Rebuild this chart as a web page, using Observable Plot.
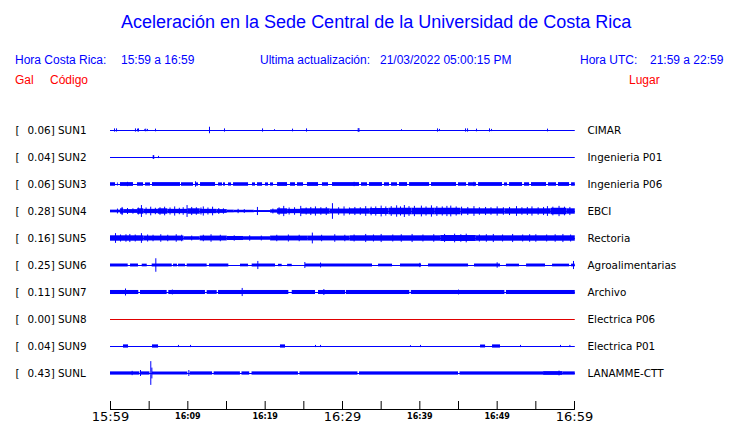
<!DOCTYPE html>
<html><head><meta charset="utf-8">
<script src="https://cdn.jsdelivr.net/npm/d3@7"></script>
<script src="https://cdn.jsdelivr.net/npm/@observablehq/plot@0.6"></script>
<style>
html,body{margin:0;padding:0;background:#fff;overflow:hidden;}
#wrap{position:relative;width:740px;height:423px;background:#fff;}
#chart{position:absolute;left:0;top:0;width:740px;height:423px;}
#head{position:absolute;left:0;top:0;width:740px;height:90px;font-family:"Liberation Sans",Arial,sans-serif;z-index:1;}
#head span{position:absolute;white-space:pre;font-size:12px;line-height:14px;color:#0000ff;}
#head span.title{font-size:18px;line-height:20px;}
#head span.red{color:#ff0000;}
#chart svg{display:block;}
</style></head><body>
<div id="wrap"><div id="chart"></div><div id="head"></div></div>
<script>
// ---------- texts ----------
const titleText = "Aceleración en la Sede Central de la Universidad de Costa Rica";
const localLabel = "Hora Costa Rica:";
const localRange = "15:59 a 16:59";
const updateLabel = "Ultima actualización:";
const updateValue = "21/03/2022 05:00:15 PM";
const utcLabel = "Hora UTC:";
const utcRange = "21:59 a 22:59";
const colGal = "Gal", colCode = "Código", colPlace = "Lugar";

// ---------- stations ----------
const codes  = ["SUN1","SUN2","SUN3","SUN4","SUN5","SUN6","SUN7","SUN8","SUN9","SUNL"];
const places = ["CIMAR","Ingenieria P01","Ingenieria P06","EBCI","Rectoria","Agroalimentarias","Archivo","Electrica P06","Electrica P01","LANAMME-CTT"];
const peaks  = [0.06,0.04,0.06,0.28,0.16,0.25,0.11,0.00,0.04,0.43];

// time axis ticks (every 5 minutes), big and small labels
const tickTimes   = ["15:59","16:04","16:09","16:14","16:19","16:24","16:29","16:34","16:39","16:44","16:49","16:54","16:59"];
const bigLabels   = ["15:59","16:29","16:59"];
const smallLabels = ["16:09","16:19","16:39","16:49"];

// ---------- traces: bands [start min, end min, half amplitude], spikes [min, half amplitude] ----------
const sun1Bands = [];
const sun1Spikes = [[0.52,0.06],[0.78,0.06],[3.23,0.06],[3.49,0.05],[3.62,0.06],[4.44,0.04],[4.56,0.05],[4.78,0.04],[5.82,0.05],[12.80,0.12],[14.74,0.06],[19.66,0.06],[21.21,0.03],[23.54,0.05],[25.35,0.06],[32.03,0.07],[32.13,0.07],[37.63,0.03],[42.29,0.06],[42.54,0.04],[45.91,0.06],[46.17,0.06],[47.33,0.05],[49.01,0.06],[49.27,0.04],[56.51,0.05]];

const sun2Bands = [[5.52,5.72,0.07]];
const sun2Spikes = [[6.21,0.04]];

const sun3Bands = [[0,0.65,0.065],[0.9,1.0,0.06],[1.29,2.97,0.07],[3.49,4.27,0.065],[4.53,5.17,0.06],[5.43,9.05,0.07],[9.18,10.73,0.065],[11.12,11.38,0.06],[11.64,13.58,0.07],[13.97,14.48,0.06],[14.61,14.87,0.06],[15.26,15.65,0.06],[15.91,17.85,0.065],[18.36,18.75,0.06],[19.01,19.66,0.065],[20.04,20.43,0.06],[20.69,21.08,0.06],[21.6,22.89,0.07],[23.28,23.92,0.065],[24.18,24.96,0.065],[25.47,26.9,0.07],[27.41,28.19,0.065],[28.71,32.2,0.07],[32.46,33.23,0.065],[33.49,35.17,0.07],[35.43,36.08,0.065],[36.34,37.11,0.065],[37.37,38.41,0.07],[38.67,41.26,0.07],[41.51,44.74,0.07],[45.0,46.04,0.065],[46.3,47.33,0.065],[47.59,50.69,0.07],[50.95,51.34,0.06],[51.6,53.28,0.07],[53.54,54.19,0.065],[54.44,56.38,0.07],[56.64,57.67,0.065],[57.93,59.36,0.07],[59.62,60.1,0.065]];
const sun3Spikes = [[10.99,0.1],[2.2,0.08],[31.5,0.08],[47.0,0.08]];

const sun4Bands = [[0,1.3,0.05],[1.3,1.7,0.1],[1.7,3.5,0.07],[3.5,4.3,0.1],[4.3,6.2,0.08],[6.2,7.4,0.1],[7.4,10.0,0.08],[10.0,11.6,0.1],[11.6,13.8,0.08],[13.8,15.1,0.07],[15.1,16.0,0.05],[16.0,18.6,0.045],[18.6,20.7,0.035],[20.7,21.6,0.06],[21.6,22.9,0.1],[22.9,24.6,0.08],[24.6,28.4,0.1],[28.4,31.0,0.09],[31.0,33.6,0.1],[33.6,36.0,0.11],[36.0,39.0,0.12],[39.0,42.0,0.12],[42.0,45.3,0.12],[45.3,51.0,0.1],[51.0,57.0,0.1],[57.0,59.0,0.12],[59.0,60.1,0.1]];
const sun4Spikes = [[0.9,0.09],[1.5,0.15],[2.2,0.11],[2.9,0.1],[3.6,0.13],[4.0,0.22],[4.6,0.13],[5.2,0.16],[5.8,0.12],[6.4,0.14],[7.0,0.16],[7.7,0.13],[8.3,0.17],[8.9,0.12],[9.4,0.14],[9.9,0.22],[10.5,0.15],[11.1,0.14],[11.7,0.13],[12.0,0.17],[12.6,0.13],[13.2,0.16],[14.0,0.11],[14.6,0.1],[16.5,0.08],[17.3,0.07],[19.0,0.15],[21.0,0.09],[21.8,0.14],[22.4,0.19],[23.1,0.13],[23.8,0.14],[24.6,0.19],[25.3,0.13],[25.9,0.15],[26.5,0.17],[27.2,0.14],[27.9,0.15],[28.7,0.29],[29.5,0.14],[30.2,0.17],[30.9,0.13],[31.6,0.15],[32.3,0.14],[33.0,0.18],[33.7,0.16],[34.3,0.17],[35.0,0.2],[35.6,0.17],[36.3,0.18],[37.0,0.21],[37.5,0.17],[38.0,0.22],[38.6,0.18],[39.3,0.19],[40.2,0.2],[40.8,0.17],[41.5,0.21],[42.2,0.18],[42.9,0.17],[43.5,0.19],[44.0,0.2],[44.7,0.17],[45.4,0.16],[46.2,0.15],[47.0,0.18],[47.7,0.14],[48.5,0.15],[49.2,0.14],[50.0,0.17],[50.8,0.14],[51.6,0.15],[52.5,0.18],[53.2,0.14],[53.9,0.15],[54.5,0.17],[55.3,0.14],[56.0,0.15],[56.5,0.18],[57.2,0.16],[58.0,0.19],[58.7,0.16],[59.4,0.15]];

const sun5Bands = [[0,4.3,0.1],[4.3,9.5,0.09],[9.5,11.6,0.065],[11.6,15.1,0.09],[15.1,17.2,0.075],[17.2,20.7,0.065],[20.7,25.5,0.09],[25.5,31.0,0.09],[31.0,42.7,0.1],[42.7,47.3,0.11],[47.3,60.1,0.1]];
const sun5Spikes = [[0.65,0.18],[1.3,0.13],[2.0,0.14],[2.5,0.15],[3.2,0.13],[4.0,0.18],[4.8,0.13],[5.5,0.12],[6.5,0.14],[7.4,0.12],[8.5,0.14],[9.2,0.12],[10.5,0.09],[12.0,0.12],[13.0,0.14],[14.2,0.12],[16.0,0.1],[18.0,0.1],[19.5,0.09],[21.5,0.12],[23.0,0.13],[24.4,0.12],[26.1,0.2],[27.3,0.12],[29.0,0.14],[30.3,0.12],[31.5,0.13],[33.0,0.15],[34.0,0.13],[35.0,0.15],[36.5,0.13],[37.6,0.14],[39.0,0.15],[40.4,0.13],[41.8,0.14],[43.2,0.15],[44.5,0.16],[45.3,0.14],[46.0,0.16],[47.7,0.13],[48.6,0.14],[49.5,0.15],[50.7,0.13],[52.0,0.15],[53.3,0.13],[54.2,0.14],[55.0,0.14],[56.4,0.13],[57.5,0.14],[58.5,0.15],[59.5,0.13]];

const sun6Bands = [[0,2.29,0.055],[2.59,3.62,0.055],[4.1,4.75,0.05],[5.39,7.98,0.055],[8.15,8.66,0.05],[8.79,9.7,0.05],[9.92,12.5,0.055],[12.8,15.3,0.055],[16.81,17.85,0.05],[18.32,21.34,0.055],[21.72,22.2,0.045],[22.9,23.5,0.045],[25.22,30.39,0.055],[30.39,33.88,0.055],[34.66,36.47,0.05],[37.5,40.22,0.055],[41.12,46.3,0.055],[47.07,50.43,0.055],[51.2,52.89,0.05],[53.8,56.25,0.055],[57.16,59.36,0.05],[59.62,60.1,0.05]];
const sun6Spikes = [[5.86,0.25],[19.05,0.15],[25.13,0.11],[27.16,0.09],[40.0,0.08],[50.0,0.1],[59.87,0.15]];

const sun7Bands = [[0,3.66,0.075],[3.88,7.33,0.075],[7.54,12.28,0.075],[12.5,13.8,0.07],[13.97,23.06,0.075],[23.5,26.51,0.075],[26.9,30.39,0.075],[30.5,38.7,0.075],[38.9,51.0,0.075],[51.2,60.1,0.075]];
const sun7Spikes = [[1.94,0.13],[8.0,0.09],[17.03,0.15],[27.59,0.11],[45.0,0.09]];

const sun8Bands = [];
const sun8Spikes = [];

const sun9Bands = [[1.68,2.33,0.06],[5.43,6.21,0.06],[21.98,22.63,0.06],[47.85,48.5,0.055],[49.4,50.43,0.06]];
const sun9Spikes = [[8.79,0.04],[10.35,0.04],[26.51,0.04],[27.16,0.04],[38.79,0.03],[40.09,0.04],[53.02,0.04],[58.19,0.04],[59.4,0.04]];

const sunLBands = [[0,3.8,0.06],[4.0,5.1,0.06],[5.4,10.0,0.055],[10.3,13.2,0.06],[13.4,16.8,0.06],[17.0,18.0,0.06],[18.3,24.3,0.06],[24.5,32.0,0.06],[32.2,45.0,0.06],[45.2,56.0,0.06],[56.0,58.5,0.07],[58.5,60.1,0.06]];
const sunLSpikes = [[2.8,0.08],[3.88,0.11],[5.21,0.44],[5.35,0.2],[10.13,0.11],[58.0,0.09]];

// ---------- build ----------
const bandsBy  = [sun1Bands,sun2Bands,sun3Bands,sun4Bands,sun5Bands,sun6Bands,sun7Bands,sun8Bands,sun9Bands,sunLBands];
const spikesBy = [sun1Spikes,sun2Spikes,sun3Spikes,sun4Spikes,sun5Spikes,sun6Spikes,sun7Spikes,sun8Spikes,sun9Spikes,sunLSpikes];

const T0 = Date.UTC(2022, 2, 21, 15, 59);
const toDate = m => new Date(T0 + m * 60000);
const fromHM = s => { const [h, mi] = s.split(":").map(Number); return new Date(Date.UTC(2022, 2, 21, h, mi)); };

const BLUE = "#0000ff", RED = "#e00000";
const rows = codes.map((code, i) => ({i, code, place: places[i], peak: peaks[i]}));
const bandData = [], spikeData = [];
bandsBy.forEach((arr, i) => arr.forEach(([a, b, amp]) => bandData.push({row: i, t0: toDate(a), t1: toDate(b), amp})));
spikesBy.forEach((arr, i) => arr.forEach(([t, amp]) => spikeData.push({row: i, t: toDate(t), amp})));

// ---------- header (HTML text over the empty top band of the chart) ----------
const head = document.getElementById("head");
function addSpan(text, left, top, cls) {
  const s = document.createElement("span");
  s.textContent = text; s.style.left = left + "px"; s.style.top = top + "px";
  if (cls) s.className = cls;
  head.appendChild(s);
}
addSpan(titleText, 121, 12, "title");
addSpan(localLabel, 15, 53);
addSpan(localRange, 121, 53);
addSpan(updateLabel, 260, 53);
addSpan(updateValue, 380, 53);
addSpan(utcLabel, 580, 53);
addSpan(utcRange, 650, 53);
addSpan(colGal, 15, 73, "red");
addSpan(colCode, 50, 73, "red");
addSpan(colPlace, 629, 73, "red");

// ---------- plot ----------
// rows are 27 px apart; first row 20 px below the frame top; frame bottom is the time axis
const W = 740, H = 423, mL = 110, mR = 166, mT = 110, mB = 14, rowPx = 27, firstRowPx = 130;
const yMin = -(firstRowPx - mT) / rowPx;
const yMax = yMin + (H - mB - mT) / rowPx;
const axisLine = [{t: toDate(0)}, {t: toDate(60)}];

const plot = Plot.plot({
  width: W, height: H,
  marginLeft: mL, marginRight: mR, marginTop: mT, marginBottom: mB,
  x: {type: "utc", domain: [toDate(0), toDate(60)], axis: null, label: null},
  y: {domain: [yMin, yMax], reverse: true, axis: null, label: null},
  style: {fontFamily: "DejaVu Sans", color: "black", background: "transparent"},
  marks: [
    Plot.ruleY(rows, {y: "i", x1: () => toDate(0), x2: () => toDate(60.1), stroke: d => d.peak === 0 ? RED : BLUE, strokeWidth: 1}),
    Plot.rect(bandData, {x1: "t0", x2: "t1", y1: d => d.row - d.amp, y2: d => d.row + d.amp, fill: BLUE}),
    Plot.ruleX(spikeData, {x: "t", y1: d => d.row - d.amp, y2: d => d.row + d.amp, stroke: BLUE, strokeWidth: 1}),
    Plot.text(rows, {y: "i", text: () => "[", frameAnchor: "left", dx: -95, textAnchor: "start", fontSize: 10.4, fill: "black"}),
    Plot.text(rows, {y: "i", text: d => `${d.peak.toFixed(2)}] ${d.code}`, frameAnchor: "left", dx: -83, textAnchor: "start", fontSize: 10.4, fill: "black"}),
    Plot.text(rows, {y: "i", text: "place", frameAnchor: "right", dx: 13, textAnchor: "start", fontSize: 10.4, fill: "black"}),
    // time axis labels (two sizes), below the baseline
    Plot.text(bigLabels, {x: fromHM, text: d => d, frameAnchor: "bottom", lineAnchor: "bottom", dy: 11, fontSize: 13, fill: "black"}),
    Plot.text(smallLabels, {x: fromHM, text: d => d, frameAnchor: "bottom", lineAnchor: "bottom", dy: 9, fontSize: 8, fontWeight: "bold", fill: "black"}),
    // ticks pointing up from the baseline, then the baseline
    Plot.axisX({ticks: tickTimes.map(fromHM), tickSize: 8, dy: -8, tickFormat: () => "", stroke: "black", label: null}),
    Plot.ruleY([yMax], {stroke: "black", strokeWidth: 1}),
    Plot.lineY(axisLine, {x: "t", y: () => yMax, stroke: "black", strokeWidth: 1})
  ]
});
document.getElementById("chart").appendChild(plot);
</script>
</body></html>
